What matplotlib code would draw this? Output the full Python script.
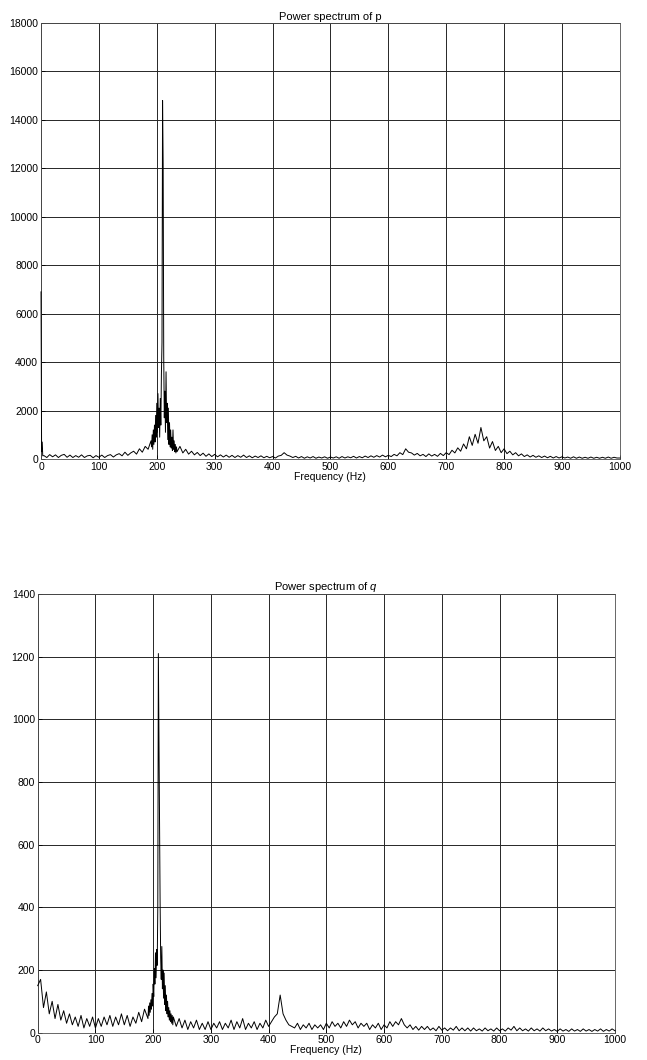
#! /usr/bin/env python3

import matplotlib
matplotlib.use("Agg")
import matplotlib.pyplot as plt
import numpy as np

plt.rcParams['font.family'] = ['Liberation Sans', 'DejaVu Sans']
plt.rcParams['mathtext.fontset'] = 'custom'
plt.rcParams['mathtext.it'] = 'Liberation Sans:italic'

# frequency segments: coarse (5 Hz) away from the 210 Hz line, fine (1 Hz) around it
seg_low = (0, 5)      # 0 .. 190 Hz
seg_peak = (191, 1)   # 191 .. 234 Hz
seg_high = (235, 5)   # 235 .. 1000 Hz

# power spectrum of p
p_dc = [6900, 300, 700, 130]  # 0, 1, 2, 3 Hz
p_low = [140, 60, 180, 90, 170, 60, 150, 190, 70, 160,
         60, 140, 70, 170, 60, 130, 150, 50, 140, 70,
         160, 60, 140, 180, 80, 170, 220, 130, 280, 150,
         250, 320, 200, 420, 280, 520, 400, 750]          # 5 .. 190
p_peak = [500, 1000, 400, 1200, 600, 1400, 700, 1800, 900, 2300,
          1100, 2700, 1300, 2100, 900, 2500, 1400, 3500, 4800, 14800,
          12200, 4200, 1700, 2800, 1100, 3600, 1500, 2300, 800, 2100,
          600, 1500, 500, 1200, 450, 900, 350, 1200, 400, 750,
          300, 600, 250, 500]
p_high = [300, 520, 250, 400, 200, 320, 170, 270, 140, 240,
          110, 210, 100, 190, 90, 170, 80, 160, 70, 150,
          60, 140, 70, 160, 60, 130, 50, 120, 60, 130,
          50, 110, 50, 100, 40, 120, 150, 260, 160, 120,
          60, 110, 40, 100, 30, 90, 40, 100, 30, 80,
          40, 90, 30, 80, 40, 90, 30, 100, 40, 90,
          50, 110, 40, 100, 50, 120, 60, 130, 70, 140,
          80, 160, 90, 150, 100, 190, 130, 260, 180, 420,
          280, 250, 160, 230, 130, 190, 100, 210, 120, 190,
          110, 230, 140, 260, 180, 360, 250, 460, 320, 620,
          420, 920, 560, 1020, 650, 1300, 750, 920, 450, 720,
          350, 520, 260, 420, 220, 320, 170, 260, 130, 210,
          100, 170, 80, 150, 70, 130, 60, 120, 50, 110,
          40, 100, 40, 90, 40, 80, 30, 90, 30, 80,
          30, 70, 30, 80, 30, 70, 30, 70, 30, 80,
          30, 70, 40, 40]

# power spectrum of q
q_low = [150, 170, 80, 130, 60, 100, 45, 90, 40, 70,
         30, 60, 25, 50, 20, 55, 15, 45, 20, 50,
         15, 45, 20, 50, 25, 55, 20, 50, 25, 60,
         25, 55, 20, 50, 30, 65, 35, 75, 50]              # 0 .. 190
q_peak = [45, 85, 55, 95, 65, 105, 75, 125, 85, 155,
          115, 205, 155, 255, 175, 265, 215, 400, 1210, 950,
          720, 420, 240, 170, 275, 140, 200, 110, 190, 90,
          150, 70, 120, 60, 100, 50, 80, 40, 70, 35,
          60, 30, 55, 25]
q_high = [50, 20, 45, 15, 40, 10, 35, 15, 40, 10,
          30, 10, 35, 10, 30, 15, 35, 10, 30, 15,
          40, 10, 35, 15, 45, 10, 30, 15, 35, 10,
          30, 15, 40, 20, 35, 50, 60, 120, 60, 40,
          25, 20, 15, 30, 10, 25, 15, 30, 10, 25,
          15, 25, 10, 30, 15, 35, 20, 30, 15, 35,
          20, 40, 25, 35, 15, 30, 20, 30, 10, 25,
          15, 30, 10, 25, 15, 35, 20, 35, 25, 45,
          25, 15, 25, 10, 20, 8, 20, 10, 20, 8,
          15, 6, 20, 8, 15, 6, 15, 8, 20, 6,
          15, 6, 15, 5, 15, 6, 12, 5, 15, 6,
          12, 5, 15, 6, 12, 5, 15, 8, 20, 6,
          15, 6, 12, 5, 15, 6, 12, 5, 15, 6,
          12, 5, 10, 4, 12, 5, 10, 4, 12, 5,
          10, 4, 12, 5, 10, 4, 10, 5, 12, 4,
          10, 5, 12, 6]

x_ticks = list(range(0, 1001, 100))
p_yticks = list(range(0, 18001, 2000))
q_yticks = list(range(0, 1401, 200))


def seg_freqs(seg, vals):
    start, step = seg
    return start + step * np.arange(len(vals))


def build(parts):
    f = np.concatenate([np.asarray(fr, dtype=float) for fr, _ in parts])
    v = np.concatenate([np.asarray(vals, dtype=float) for _, vals in parts])
    return f, v


p_freq, p_pow = build([([0, 1, 2, 3], p_dc),
                       (seg_freqs(seg_low, p_low) + 5, p_low),
                       (seg_freqs(seg_peak, p_peak), p_peak),
                       (seg_freqs(seg_high, p_high), p_high)])
q_freq, q_pow = build([(seg_freqs(seg_low, q_low), q_low),
                       (seg_freqs(seg_peak, q_peak), q_peak),
                       (seg_freqs(seg_high, q_high), q_high)])


def style(ax, yticks, title):
    ax.set_xlim(0, 1000)
    ax.set_ylim(0, yticks[-1])
    ax.set_xticks(x_ticks)
    ax.set_yticks(yticks)
    ax.grid(True, color='0.15', linewidth=0.7)
    ax.set_axisbelow(True)
    ax.tick_params(direction='in', length=3, width=0.6, labelsize=7.5, pad=2)
    for s in ax.spines.values():
        s.set_linewidth(0.6)
        s.set_color('0.3')
    ax.set_title(title, fontsize=8, pad=2)
    ax.set_xlabel("Frequency (Hz)", fontsize=7.5, labelpad=0)


def make_chart():
    fig = plt.figure(figsize=(6.47, 10.6), dpi=100)
    ax1 = fig.add_axes([0.0634, 0.567, 0.8946, 0.4113])
    ax1.plot(p_freq, p_pow, color='black', linewidth=0.7, zorder=3, clip_on=False)
    style(ax1, p_yticks, "Power spectrum of p")

    ax2 = fig.add_axes([0.0583, 0.0258, 0.8922, 0.4138])
    ax2.plot(q_freq, q_pow, color='black', linewidth=0.7, zorder=3, clip_on=False)
    style(ax2, q_yticks, r"Power spectrum of $q$")

    fig.savefig("out.png", dpi=100)


if __name__ == "__main__":
    make_chart()
